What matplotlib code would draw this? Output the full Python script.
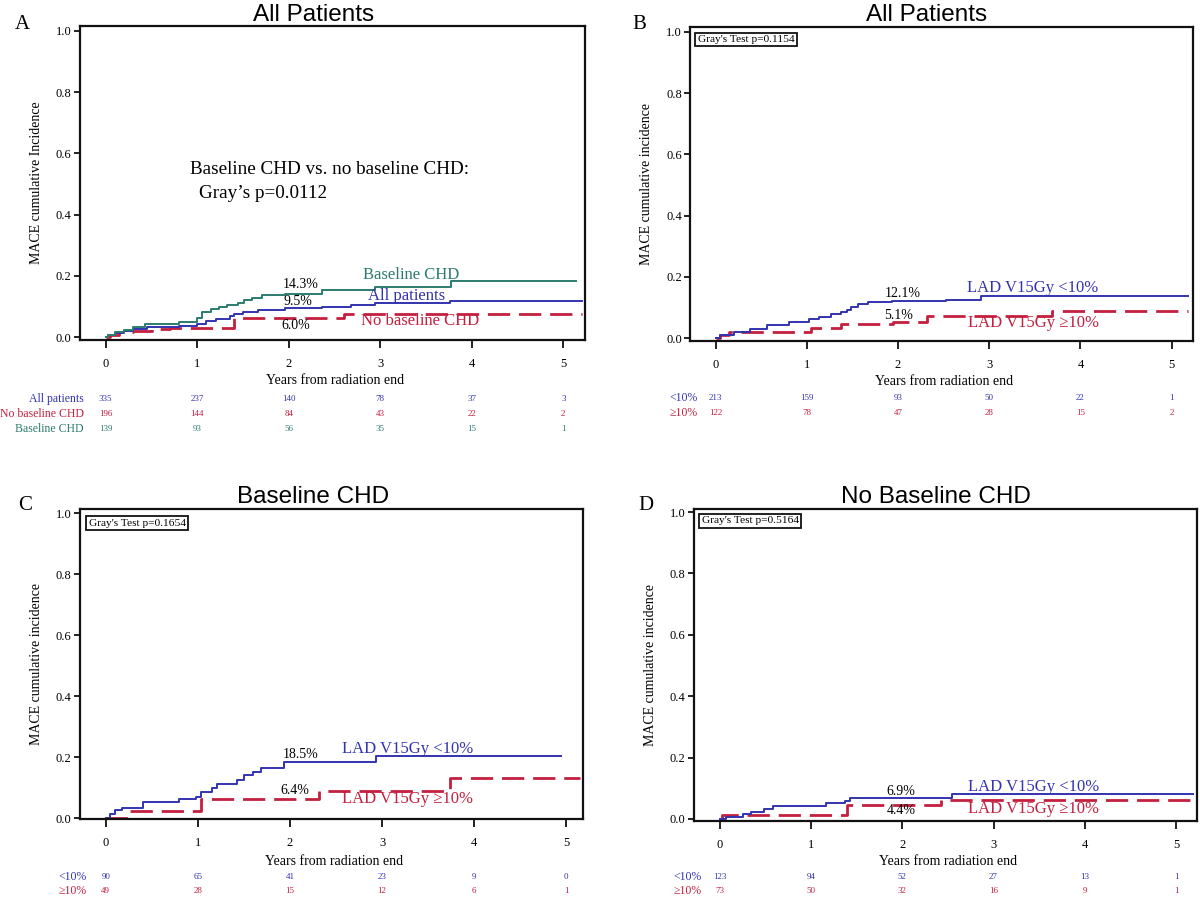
import matplotlib
matplotlib.use('Agg')
import matplotlib.pyplot as plt
from matplotlib.transforms import blended_transform_factory

SERIF = 'Liberation Serif'
SANS = 'Liberation Sans'
plt.rcParams['font.family'] = [SERIF, 'DejaVu Serif']

BLUE = '#3333B0'
RED = '#C31F3E'
TEAL = '#2C7B6F'
BLACK = '#111111'

# ── Data ──────────────────────────────────────────────────────────────────────
years = [0, 1, 2, 3, 4, 5]

# Panel A
a_base_t = [0, 0.03, 0.1, 0.2, 0.3, 0.43, 0.8, 1.0, 1.05, 1.15, 1.24, 1.33, 1.44, 1.51,
            1.6, 1.71, 1.96, 2.36, 2.94, 3.77, 5.14]
a_base_y = [0, 0.008, 0.016, 0.024, 0.032, 0.042, 0.05, 0.061, 0.083, 0.09, 0.099, 0.104,
            0.11, 0.121, 0.129, 0.137, 0.142, 0.153, 0.164, 0.183, 0.183]
a_all_t = [0, 0.03, 0.1, 0.2, 0.3, 0.45, 0.8, 1.0, 1.1, 1.2, 1.36, 1.4, 1.5, 1.66, 1.96,
           2.36, 2.68, 2.94, 3.76, 5.2]
a_all_y = [0, 0.006, 0.013, 0.02, 0.027, 0.034, 0.037, 0.044, 0.053, 0.058, 0.069, 0.076,
           0.082, 0.088, 0.095, 0.098, 0.104, 0.11, 0.119, 0.119]
a_nob_t = [0, 0.05, 0.15, 0.3, 0.5, 0.7, 1.4, 2.6, 5.2]
a_nob_y = [0, 0.008, 0.015, 0.02, 0.025, 0.03, 0.061, 0.075, 0.075]
a_risk_all = [335, 237, 140, 78, 37, 3]
a_risk_nob = [196, 144, 84, 43, 22, 2]
a_risk_base = [139, 93, 56, 35, 15, 1]

# Panel B
b_lo_t = [0, 0.05, 0.2, 0.38, 0.56, 0.8, 1.02, 1.13, 1.27, 1.38, 1.44, 1.49, 1.56, 1.67,
          1.93, 2.53, 2.91, 5.18]
b_lo_y = [0, 0.01, 0.021, 0.031, 0.042, 0.052, 0.061, 0.069, 0.077, 0.085, 0.092, 0.101,
          0.11, 0.118, 0.121, 0.125, 0.136, 0.136]
b_hi_t = [0, 0.05, 0.15, 1.05, 1.38, 1.95, 2.32, 3.69, 5.18]
b_hi_y = [0, 0.01, 0.019, 0.032, 0.046, 0.051, 0.073, 0.088, 0.088]
b_risk_lo = [213, 159, 93, 50, 22, 1]
b_risk_hi = [122, 78, 47, 28, 15, 2]

# Panel C
c_lo_t = [0, 0.05, 0.1, 0.18, 0.4, 0.8, 0.98, 1.03, 1.15, 1.21, 1.42, 1.5, 1.6, 1.69,
          1.94, 2.93, 4.94]
c_lo_y = [0, 0.014, 0.025, 0.034, 0.052, 0.062, 0.07, 0.085, 0.1, 0.113, 0.124, 0.14,
          0.151, 0.165, 0.185, 0.203, 0.203]
c_hi_t = [0, 0.24, 1.03, 2.32, 3.74, 5.15]
c_hi_y = [0, 0.023, 0.064, 0.09, 0.13, 0.13]
c_risk_lo = [90, 65, 41, 23, 9, 0]
c_risk_hi = [49, 28, 15, 12, 6, 1]

# Panel D
d_lo_t = [0, 0.07, 0.26, 0.34, 0.49, 0.59, 1.16, 1.37, 1.43, 2.54, 5.19]
d_lo_y = [0, 0.008, 0.016, 0.024, 0.033, 0.042, 0.051, 0.057, 0.069, 0.083, 0.083]
d_hi_t = [0, 0.03, 1.39, 2.43, 5.19]
d_hi_y = [0, 0.013, 0.044, 0.062, 0.062]
d_risk_lo = [123, 94, 52, 27, 13, 1]
d_risk_hi = [73, 50, 32, 16, 9, 1]

# ── Figure ────────────────────────────────────────────────────────────────────
fig = plt.figure(figsize=(12, 9.01), dpi=100)
fig.patch.set_facecolor('white')


def setup(rect, xlim, ylim, ylab, ylab_x, xlab_y):
    ax = fig.add_axes(rect)
    ax.set_xlim(*xlim)
    ax.set_ylim(*ylim)
    ax.set_xticks(years)
    ax.set_yticks([0, 0.2, 0.4, 0.6, 0.8, 1.0])
    ax.set_yticklabels(['0.0', '0.2', '0.4', '0.6', '0.8', '1.0'])
    ax.tick_params(axis='both', direction='out', width=1.3, labelsize=9, color=BLACK)
    ax.tick_params(axis='x', length=6, pad=7)
    ax.tick_params(axis='y', length=4, pad=2)
    for s in ax.spines.values():
        s.set_linewidth(1.6)
        s.set_color(BLACK)
    ax.set_ylabel(ylab, fontsize=10)
    ax.yaxis.set_label_coords(ylab_x, 0.5)
    ax.set_xlabel('Years from radiation end', fontsize=10)
    ax.xaxis.set_label_coords(0.505, xlab_y)
    return ax


def steps(ax, t, y, color, dashed=False):
    if dashed:
        ax.step(t, y, where='post', color=color, linewidth=2.0, dashes=(8, 3.2))
    else:
        ax.step(t, y, where='post', color=color, linewidth=1.4)


def risk_table(ax, rows, label_x, ys):
    tr = blended_transform_factory(ax.transData, ax.transAxes)
    for (name, vals, color), yy in zip(rows, ys):
        ax.text(label_x, yy, name, transform=tr, ha='right', va='center',
                fontsize=8.5, color=color, clip_on=False)
        for x, v in zip(years, vals):
            ax.text(x, yy, str(v), transform=tr, ha='center', va='center',
                    fontsize=6.5, color=color, clip_on=False)


def grays_box(ax, x, y, txt):
    ax.text(x, y, txt, transform=ax.transAxes, ha='left', va='top', fontsize=8.2,
            bbox=dict(boxstyle='square,pad=0.2', facecolor='white',
                      edgecolor=BLACK, linewidth=1.3))


# ── Panel A ───────────────────────────────────────────────────────────────────
axA = setup([0.0667, 0.6226, 0.421, 0.3485], (-0.281, 5.24), (-0.0098, 1.016),
            'MACE cumulative Incidence', -0.073, -0.108)
steps(axA, a_nob_t, a_nob_y, RED, dashed=True)
steps(axA, a_all_t, a_all_y, BLUE)
steps(axA, a_base_t, a_base_y, TEAL)
axA.text(0.918, 0.546, 'Baseline CHD vs. no baseline CHD:', fontsize=13.8, va='center')
axA.text(1.014, 0.47, 'Gray\u2019s p=0.0112', fontsize=13.8, va='center')
axA.text(2.81, 0.203, 'Baseline CHD', color=TEAL, fontsize=12, va='center')
axA.text(2.87, 0.133, 'All patients', color=BLUE, fontsize=12, va='center')
axA.text(2.79, 0.053, 'No baseline CHD', color=RED, fontsize=12, va='center')
axA.text(1.93, 0.173, '14.3%', fontsize=10, va='center')
axA.text(1.94, 0.116, '9.5%', fontsize=10, va='center')
axA.text(1.92, 0.037, '6.0%', fontsize=10, va='center')
risk_table(axA, [('All patients', a_risk_all, BLUE),
                 ('No baseline CHD', a_risk_nob, RED),
                 ('Baseline CHD', a_risk_base, TEAL)],
           -0.237, [-0.188, -0.236, -0.284])

# ── Panel B ───────────────────────────────────────────────────────────────────
axB = setup([0.5754, 0.6215, 0.4185, 0.3485], (-0.275, 5.23), (-0.0098, 1.016),
            'MACE cumulative incidence', -0.075, -0.108)
steps(axB, b_hi_t, b_hi_y, RED, dashed=True)
steps(axB, b_lo_t, b_lo_y, BLUE)
grays_box(axB, 0.014, 0.975, 'Gray\'s Test p=0.1154')
axB.text(1.85, 0.146, '12.1%', fontsize=10, va='center')
axB.text(1.85, 0.072, '5.1%', fontsize=10, va='center')
axB.text(2.76, 0.162, 'LAD V15Gy <10%', color=BLUE, fontsize=12, va='center')
axB.text(2.77, 0.049, 'LAD V15Gy \u226510%', color=RED, fontsize=12, va='center')
risk_table(axB, [('<10%', b_risk_lo, BLUE), ('\u226510%', b_risk_hi, RED)],
           -0.2, [-0.182, -0.229])

# ── Panel C ───────────────────────────────────────────────────────────────────
axC = setup([0.0667, 0.091, 0.419, 0.344], (-0.279, 5.18), (-0.003, 1.013),
            'MACE cumulative incidence', -0.073, -0.116)
steps(axC, c_hi_t, c_hi_y, RED, dashed=True)
steps(axC, c_lo_t, c_lo_y, BLUE)
grays_box(axC, 0.017, 0.969, 'Gray\'s Test p=0.1654')
axC.text(1.92, 0.209, '18.5%', fontsize=10, va='center')
axC.text(1.90, 0.089, '6.4%', fontsize=10, va='center')
axC.text(2.57, 0.227, 'LAD V15Gy <10%', color=BLUE, fontsize=12, va='center')
axC.text(2.57, 0.063, 'LAD V15Gy \u226510%', color=RED, fontsize=12, va='center')
risk_table(axC, [('<10%', c_risk_lo, BLUE), ('\u226510%', c_risk_hi, RED)],
           -0.21, [-0.187, -0.232])

# ── Panel D ───────────────────────────────────────────────────────────────────
axD = setup([0.578, 0.0888, 0.4196, 0.3463], (-0.285, 5.23), (-0.0065, 1.01),
            'MACE cumulative incidence', -0.072, -0.109)
steps(axD, d_hi_t, d_hi_y, RED, dashed=True)
steps(axD, d_lo_t, d_lo_y, BLUE)
grays_box(axD, 0.016, 0.976, 'Gray\'s Test p=0.5164')
axD.text(1.83, 0.089, '6.9%', fontsize=10, va='center')
axD.text(1.83, 0.027, '4.4%', fontsize=10, va='center')
axD.text(2.72, 0.105, 'LAD V15Gy <10%', color=BLUE, fontsize=12, va='center')
axD.text(2.72, 0.033, 'LAD V15Gy \u226510%', color=RED, fontsize=12, va='center')
risk_table(axD, [('<10%', d_risk_lo, BLUE), ('\u226510%', d_risk_hi, RED)],
           -0.2, [-0.18, -0.224])

# ── Titles and panel letters ─────────────────────────────────────────────────
for x, y, t in [(0.2617, 0.983, 'All Patients'), (0.7725, 0.983, 'All Patients'),
                (0.261, 0.4484, 'Baseline CHD'), (0.78, 0.4484, 'No Baseline CHD')]:
    fig.text(x, y, t, ha='center', va='center', fontsize=17.5, family=SANS)
for x, y, t in [(0.019, 0.973, 'A'), (0.533, 0.973, 'B'),
                (0.021, 0.4395, 'C'), (0.538, 0.4395, 'D')]:
    fig.text(x, y, t, ha='center', va='center', fontsize=15)

fig.savefig('out.png', dpi=100, facecolor='white')
